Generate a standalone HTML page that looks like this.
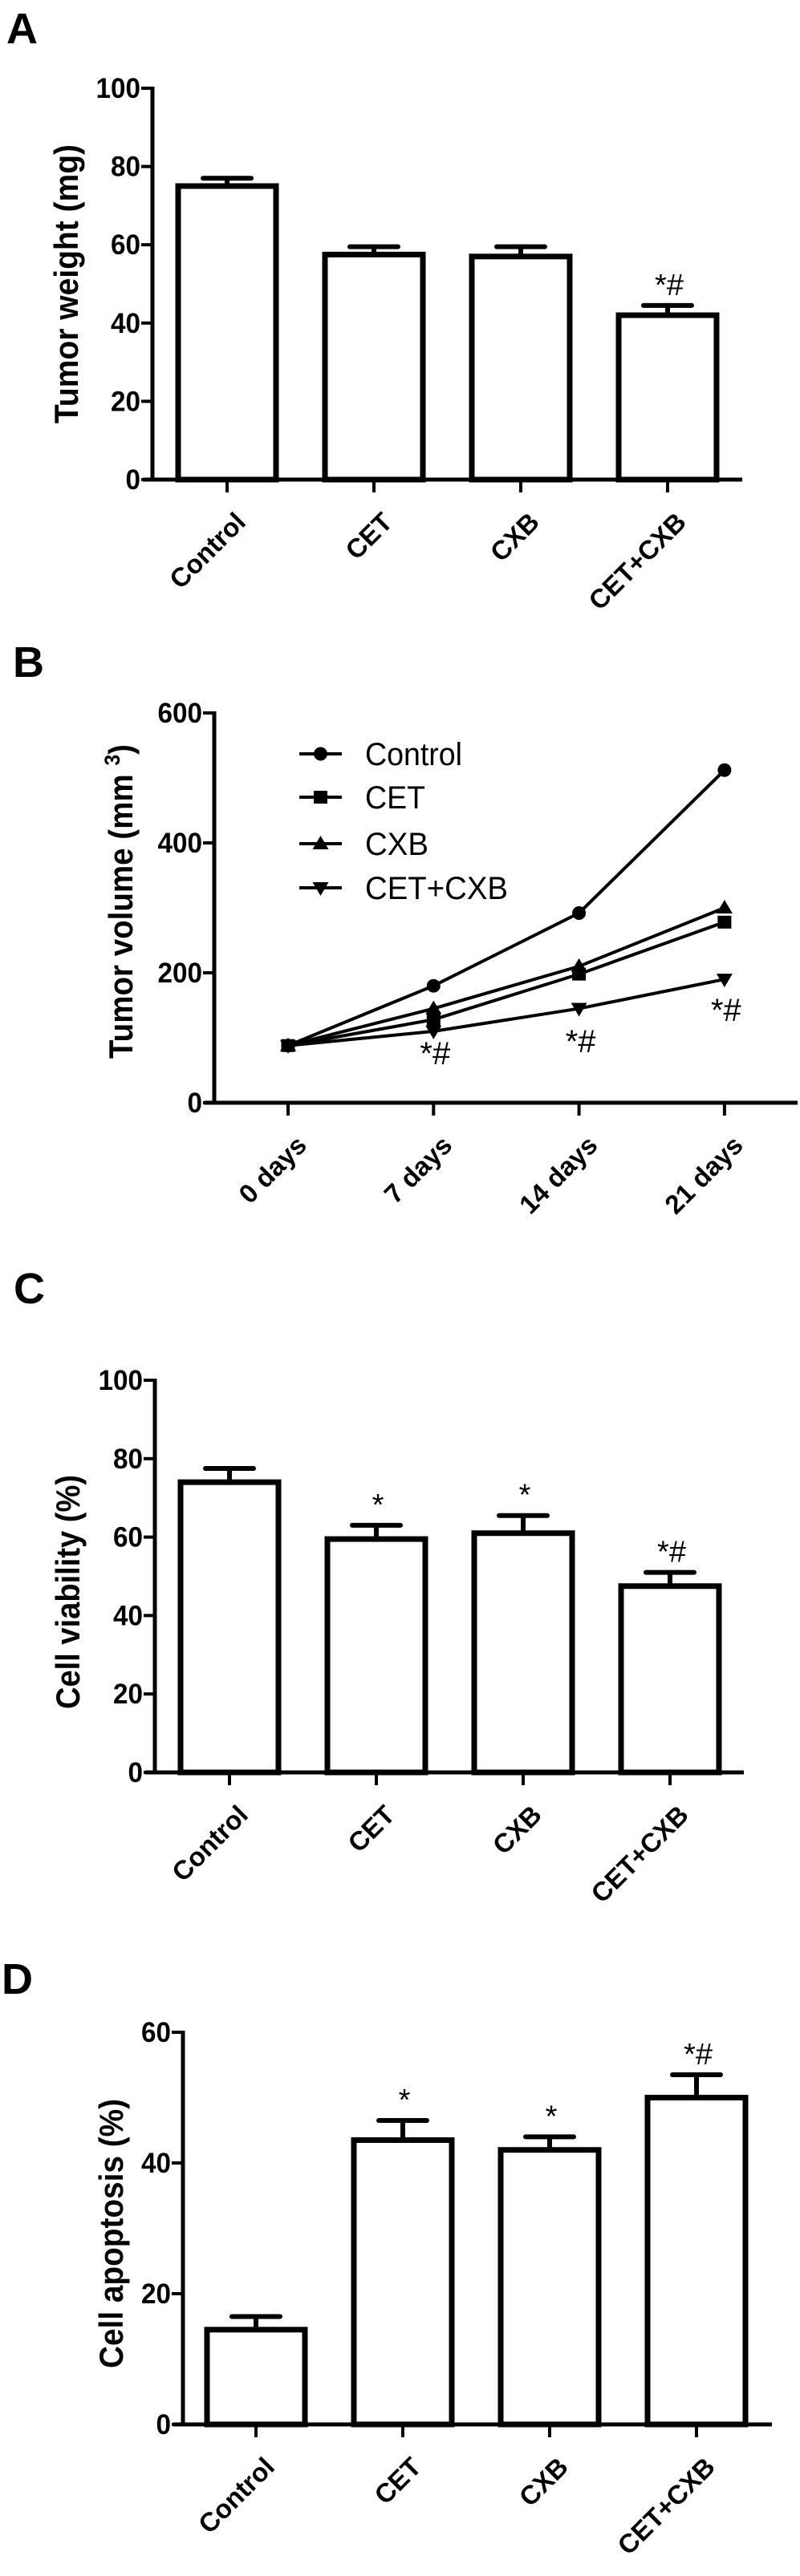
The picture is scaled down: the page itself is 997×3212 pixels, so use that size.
<!DOCTYPE html>
<html><head><meta charset="utf-8"><style>
html,body{margin:0;padding:0;background:#fff;}
svg{display:block;font-family:"Liberation Sans",Arial,sans-serif;}
</style></head><body>
<svg id="fig" width="997" height="3212" viewBox="0 0 997 3212" xmlns="http://www.w3.org/2000/svg">
<rect width="997" height="3212" fill="#fff"/>
</svg>
<script>
// Panel A data
const catsA = ["Control","CET","CXB","CET+CXB"];
const valsA = [75, 57.5, 57, 42];
const errA = [2, 2, 2.5, 2.5];
const sigA = ["", "", "", "*#"];
const ticksA = [0, 20, 40, 60, 80, 100];
// Panel B data
const daysB = ["0 days","7 days","14 days","21 days"];
const seriesNamesB = ["Control","CET","CXB","CET+CXB"];
const controlB = [88, 180, 292, 512];
const cetB = [88, 128, 198, 278];
const cxbB = [88, 145, 210, 300];
const comboB = [88, 110, 145, 190];
const sigB = ["", "*#", "*#", "*#"];
const ticksB = [0, 200, 400, 600];
// Panel C data
const catsC = ["Control","CET","CXB","CET+CXB"];
const valsC = [74, 59.5, 61, 47.5];
const errC = [3.5, 3.5, 4.5, 3.5];
const sigC = ["", "*", "*", "*#"];
const ticksC = [0, 20, 40, 60, 80, 100];
// Panel D data
const catsD = ["Control","CET","CXB","CET+CXB"];
const valsD = [14.5, 43.5, 42, 50];
const errD = [2, 3, 2, 3.5];
const sigD = ["", "*", "*", "*#"];
const ticksD = [0, 20, 40, 60];

const NS = "http://www.w3.org/2000/svg";
const svg = document.getElementById("fig");
function mk(tag, attrs, parent) {
  const el = document.createElementNS(NS, tag);
  for (const k in attrs) el.setAttribute(k, attrs[k]);
  (parent || svg).appendChild(el);
  return el;
}

function panelLetter(letter, x, y) {
  const t = mk("text", {x: x, y: y, "font-size": 54, "font-weight": "bold", fill: "#000"});
  t.textContent = letter;
  
  
}

function yAxis(g, p, ticks, yScale) {
  const ax = mk("line", {x1: p.ax, x2: p.ax, y1: yScale(ticks[ticks.length-1]) - 2, y2: p.y0 + 2, stroke: "#000", "stroke-width": 5}, g);
  
  
  ticks.forEach(v => {
    const y = yScale(v);
    const tk = mk("line", {x1: p.ax - 14, x2: p.ax, y1: y, y2: y, stroke: "#000", "stroke-width": 4}, g);
    
    
    const s = String(v);
    const tl = mk("text", {x: p.ax - 15, y: y + 12, "font-size": 35, "font-weight": "bold", "text-anchor": "end", textLength: s.length * 18.5, lengthAdjust: "spacingAndGlyphs"}, g);
    tl.textContent = s;
    
    
  });
  const xa = mk("line", {x1: p.ax - 12, x2: p.axEnd, y1: p.y0, y2: p.y0, stroke: "#000", "stroke-width": 5}, g);
  
  
}

function yTitle(g, x, y, len, txt, sup) {
  const t = mk("text", {x: 0, y: 0, "font-size": 42, "font-weight": "bold", "text-anchor": "middle", transform: "translate(" + x + "," + y + ") rotate(-90)"}, g);
  t.textContent = txt;
  if (sup) {
    const s = mk("tspan", {"font-size": 27, dy: -16}, t);
    s.textContent = sup;
    const c = mk("tspan", {"font-size": 42, dy: 16}, t);
    c.textContent = ")";
  }
  t.setAttribute("textLength", len);
  t.setAttribute("lengthAdjust", "spacingAndGlyphs");
  
  
}

function xLabels(g, cats, xs, y0) {
  cats.forEach((c, i) => {
    const x = xs[i] + 25, y = y0 + 55;
    const tk = mk("line", {x1: xs[i], x2: xs[i], y1: y0, y2: y0 + 16, stroke: "#000", "stroke-width": 4}, g);
    
    
    const t = mk("text", {x: 0, y: 0, "font-size": 33, "font-weight": "bold", "text-anchor": "end", transform: "translate(" + x + "," + y + ") rotate(-45)"}, g);
    t.textContent = c;
    
    
  });
}

function barPanel(id, p, cats, vals, errs, sigs, ticks, title, titleLen) {
  const g = mk("g", {});
  
  
  const ymax = ticks[ticks.length - 1];
  const yScale = v => p.y0 - (v / ymax) * (p.y0 - p.yTop);
  const xs = cats.map((c, i) => p.x0 + i * p.step);
  vals.forEach((v, i) => {
    const top = yScale(v), w = p.bw;
    const e = mk("line", {x1: xs[i], x2: xs[i], y1: top, y2: yScale(v + errs[i]), stroke: "#000", "stroke-width": 6}, g);
    
    
    const cap = mk("line", {x1: xs[i] - 30, x2: xs[i] + 30, y1: yScale(v + errs[i]), y2: yScale(v + errs[i]), stroke: "#000", "stroke-width": 6, "stroke-linecap": "round"}, g);
    
    
    const r = mk("rect", {x: xs[i] - w / 2, y: top, width: w, height: p.y0 - top, fill: "#fff", stroke: "#000", "stroke-width": 7}, g);
    
    
    if (sigs[i]) {
      const s = mk("text", {x: xs[i] + 2, y: yScale(v + errs[i]) - 13, "font-size": 38, "text-anchor": "middle"}, g);
      s.textContent = sigs[i];
      
      
    }
  });
  yAxis(g, p, ticks, yScale);
  xLabels(g, cats, xs, p.y0);
  yTitle(g, p.titleX, p.titleY, titleLen, title);
}

// Panel A
panelLetter("A", 8, 54);
barPanel("a", {ax: 190, axEnd: 925, y0: 598, yTop: 110, x0: 283, step: 183, bw: 122, titleX: 97, titleY: 354}, catsA, valsA, errA, sigA, ticksA, "Tumor weight (mg)", 348);

// Panel B
panelLetter("B", 16, 844);
(function () {
  const g = mk("g", {});
  
  
  const p = {ax: 267, axEnd: 994, y0: 1375, yTop: 889};
  const ymax = ticksB[ticksB.length - 1];
  const yScale = v => p.y0 - (v / ymax) * (p.y0 - p.yTop);
  const xs = daysB.map((d, i) => 359 + i * 181.3);
  const all = [controlB, cetB, cxbB, comboB];
  const shapes = ["circle", "square", "up", "down"];
  function marker(shape, x, y, parent) {
    let m;
    if (shape === "circle") m = mk("circle", {cx: x, cy: y, r: 8.5, fill: "#000"}, parent);
    else if (shape === "square") m = mk("rect", {x: x - 8.5, y: y - 8, width: 17, height: 16, fill: "#000"}, parent);
    else if (shape === "up") m = mk("polygon", {points: (x) + "," + (y - 10) + " " + (x - 10) + "," + (y + 7) + " " + (x + 10) + "," + (y + 7), fill: "#000"}, parent);
    else m = mk("polygon", {points: (x) + "," + (y + 10) + " " + (x - 10) + "," + (y - 7) + " " + (x + 10) + "," + (y - 7), fill: "#000"}, parent);
    return m;
  }
  all.forEach((ser, si) => {
    const pts = ser.map((v, i) => xs[i] + "," + yScale(v)).join(" ");
    const l = mk("polyline", {points: pts, fill: "none", stroke: "#000", "stroke-width": 4}, g);
    
    
    ser.forEach((v, i) => {
      const m = marker(shapes[si], xs[i], yScale(v), g);
      
      
    });
  });
  const sigYB = [0, 1327, 1312, 1273];
  sigB.forEach((s, i) => {
    if (!s) return;
    const t = mk("text", {x: xs[i] + 2, y: sigYB[i], "font-size": 40, "text-anchor": "middle"}, g);
    t.textContent = s;
    
    
  });
  // legend
  const legY = [940, 994, 1052, 1107];
  const legW = [121, 75, 79, 178];
  seriesNamesB.forEach((n, i) => {
    const lg = mk("g", {}, g);
    
    
    mk("line", {x1: 373, x2: 426, y1: legY[i], y2: legY[i], stroke: "#000", "stroke-width": 4}, lg);
    marker(shapes[i], 399.5, legY[i], lg);
    const t = mk("text", {x: 455, y: legY[i] + 14, "font-size": 40, textLength: legW[i], lengthAdjust: "spacingAndGlyphs"}, lg);
    t.textContent = n;
  });
  yAxis(g, p, ticksB, yScale);
  xLabels(g, daysB, xs, p.y0);
  yTitle(g, 165, 1124, 392, "Tumor volume (mm ", "3");
})();

// Panel C
panelLetter("C", 17, 1625);
barPanel("c", {ax: 193, axEnd: 927, y0: 2210, yTop: 1721, x0: 286, step: 183, bw: 122, titleX: 99, titleY: 1985}, catsC, valsC, errC, sigC, ticksC, "Cell viability (%)", 292);

// Panel D
panelLetter("D", 2, 2486);
barPanel("d", {ax: 228, axEnd: 962, y0: 3023, yTop: 2534, x0: 319, step: 183, bw: 122, titleX: 153, titleY: 2785}, catsD, valsD, errD, sigD, ticksD, "Cell apoptosis (%)", 336);
</script>
</body></html>
